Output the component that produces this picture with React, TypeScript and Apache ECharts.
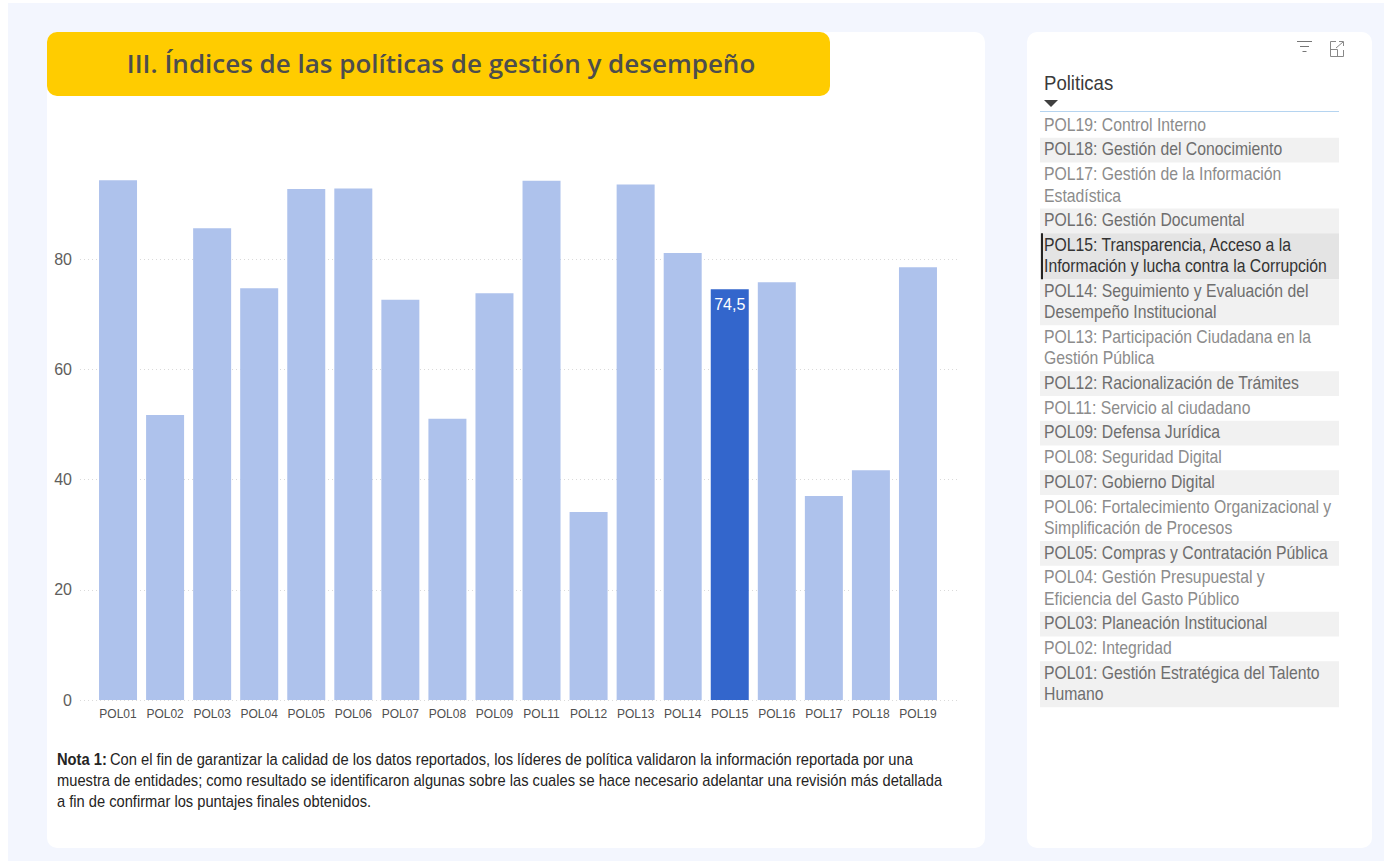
import React, { useEffect, useRef } from "react";
import * as echarts from "echarts";

const categories = ["POL01","POL02","POL03","POL04","POL05","POL06","POL07","POL08","POL09","POL11","POL12","POL13","POL14","POL15","POL16","POL17","POL18","POL19"];
const values = [94.3,51.7,85.6,74.7,92.7,92.8,72.6,51,73.8,94.2,34.1,93.5,81.1,74.5,75.8,37,41.7,78.5];
const selectedCategory = "POL15";
const titleText = "III. Índices de las políticas de gestión y desempeño";
const slicerTitle = "Politicas";
const slicerRows: string[][] = [
  ["POL19: Control Interno"],
  ["POL18: Gestión del Conocimiento"],
  ["POL17: Gestión de la Información", "Estadística"],
  ["POL16: Gestión Documental"],
  ["POL15: Transparencia, Acceso a la", "Información y lucha contra la Corrupción"],
  ["POL14: Seguimiento y Evaluación del", "Desempeño Institucional"],
  ["POL13: Participación Ciudadana en la", "Gestión Pública"],
  ["POL12: Racionalización de Trámites"],
  ["POL11: Servicio al ciudadano"],
  ["POL09: Defensa Jurídica"],
  ["POL08: Seguridad Digital"],
  ["POL07: Gobierno Digital"],
  ["POL06: Fortalecimiento Organizacional y", "Simplificación de Procesos"],
  ["POL05: Compras y Contratación Pública"],
  ["POL04: Gestión Presupuestal y", "Eficiencia del Gasto Público"],
  ["POL03: Planeación Institucional"],
  ["POL02: Integridad"],
  ["POL01: Gestión Estratégica del Talento", "Humano"],
];
const noteBold = "Nota 1:";
const noteLines = [
  "Con el fin de garantizar la calidad de los datos reportados, los líderes de política validaron la información reportada por una",
  "muestra de entidades; como resultado se identificaron algunas sobre las cuales se hace necesario adelantar una revisión más detallada",
  "a fin de confirmar los puntajes finales obtenidos.",
];

const SANS = "'Liberation Sans', Arial, sans-serif";

function buildGraphic(): any[] {
  const g: any[] = [];
  const rect = (x: number, y: number, w: number, h: number, fill: string, r = 0, z = 0) =>
    g.push({ type: "rect", silent: true, z, shape: { x, y, width: w, height: h, r }, style: { fill } });
  const line = (x1: number, y1: number, x2: number, y2: number, stroke: string, lineWidth = 1) =>
    g.push({ type: "line", silent: true, z: 3, shape: { x1, y1, x2, y2 }, style: { stroke, lineWidth } });
  const text = (t: string, x: number, y: number, fill: string, font: string, scaleX = 1) =>
    g.push({ type: "text", silent: true, z: 5, x, y, scaleX, style: { text: t, fill, font, textVerticalAlign: "middle" } });

  rect(8, 3, 1376, 858, "#F3F6FE", 0, -10);
  rect(47, 32, 938, 816, "#FFFFFF", 10, -9);
  rect(1027, 32, 345, 816, "#FFFFFF", 10, -9);
  rect(47, 32, 783, 64, "#FFCC00", 10, -8);
  g.push({ type: "text", z: 5, x: 441, y: 63, silent: true, style: { text: titleText, fill: "#4D4D4D", font: "600 26px 'Open Sans', sans-serif", textAlign: "center", textVerticalAlign: "middle" } });

  // note
  text(noteBold, 57, 759, "#252423", `bold 16px ${SANS}`, 0.92);
  text(noteLines[0], 110, 759, "#252423", `16px ${SANS}`, 0.92);
  text(noteLines[1], 57, 780, "#252423", `16px ${SANS}`, 0.918);
  text(noteLines[2], 57, 801, "#252423", `16px ${SANS}`, 0.918);

  // slicer
  text(slicerTitle, 1044, 83, "#3A3A3A", `20px ${SANS}`, 0.93);
  g.push({ type: "polygon", silent: true, z: 5, shape: { points: [[1044, 100], [1058, 100], [1051, 107]] }, style: { fill: "#404040" } });
  rect(1040, 111, 299, 1, "#B5D4F0", 0, 3);

  // slicer header icons
  line(1297, 41.5, 1312, 41.5, "#777777");
  line(1300, 46.5, 1309, 46.5, "#777777");
  line(1302.5, 51.5, 1306.5, 51.5, "#777777");
  g.push({ type: "polyline", silent: true, z: 5, shape: { points: [[1336, 41.5], [1330.5, 41.5], [1330.5, 56.5], [1343.5, 56.5], [1343.5, 50]] }, style: { stroke: "#888888", fill: "none", lineWidth: 1 } });
  g.push({ type: "polyline", silent: true, z: 5, shape: { points: [[1330.5, 49.5], [1337.5, 49.5], [1337.5, 56.5]] }, style: { stroke: "#888888", fill: "none", lineWidth: 1 } });
  line(1336, 48, 1343, 42, "#888888");
  line(1339, 41.5, 1343.5, 41.5, "#888888");
  line(1343.5, 41.5, 1343.5, 46, "#888888");

  let y = 113;
  slicerRows.forEach((row, i) => {
    const h = row.length > 1 ? 46 : 24.75;
    const isSel = row[0].startsWith(selectedCategory);
    const shaded = i % 2 === 1;
    if (isSel) rect(1040, y, 299, h, "#E4E4E4", 0, -5);
    else if (shaded) rect(1040, y, 299, h, "#F1F1F1", 0, -5);
    if (isSel) line(1042, y, 1042, y + h, "#252423", 2);
    const fill = isSel ? "#333333" : shaded ? "#6E6E6E" : "#8C8C8C";
    row.forEach((t, k) => text(t, 1044, y + 11.75 + k * 21.5, fill, `18px ${SANS}`, 0.876));
    y += h;
  });
  return g;
}

export default function App() {
  const ref = useRef<HTMLDivElement>(null);
  useEffect(() => {
    const chart = echarts.init(ref.current!, undefined, { renderer: "svg" });
    const yBase = { type: "value" as const, min: 0, max: 100, interval: 20 };
    chart.setOption({
      animation: false,
      backgroundColor: "#FFFFFF",
      graphic: { elements: buildGraphic() },
      grid: [
        { left: 80, width: 877, top: 148.75, height: 551.25 },
        { left: 94.5, width: 847, top: 148.75, height: 551.25 },
      ],
      xAxis: [
        { type: "category", gridIndex: 0, data: categories, show: false },
        {
          type: "category", gridIndex: 1, data: categories,
          axisLine: { show: false }, axisTick: { show: false },
          axisLabel: { interval: 0, margin: 8, color: "#4F4F4F", fontSize: 12, fontFamily: SANS },
        },
      ],
      yAxis: [
        {
          ...yBase, gridIndex: 0,
          axisLine: { show: false }, axisTick: { show: false },
          axisLabel: { showMaxLabel: false, margin: 8, color: "#605E5C", fontSize: 16, fontFamily: SANS },
          splitLine: { showMaxLine: false, lineStyle: { color: "#DADADA", type: [1, 3], width: 1 } },
        },
        { ...yBase, gridIndex: 1, show: false, splitLine: { show: false } },
      ],
      series: [
        {
          type: "bar", xAxisIndex: 1, yAxisIndex: 1, barWidth: 38,
          data: categories.map((c, i) => c === selectedCategory
            ? {
                value: values[i],
                itemStyle: { color: "#3366CC" },
                label: {
                  show: true, position: "insideTop", distance: 7, color: "#FFFFFF", fontSize: 16, fontFamily: SANS,
                  formatter: (p: any) => String(p.value).replace(".", ","),
                },
              }
            : { value: values[i], itemStyle: { color: "#AEC2EC" } }),
        },
      ],
    });
    return () => chart.dispose();
  }, []);
  return <div ref={ref} style={{ position: "fixed", left: 0, top: 0, width: 1392, height: 861 }} />;
}
